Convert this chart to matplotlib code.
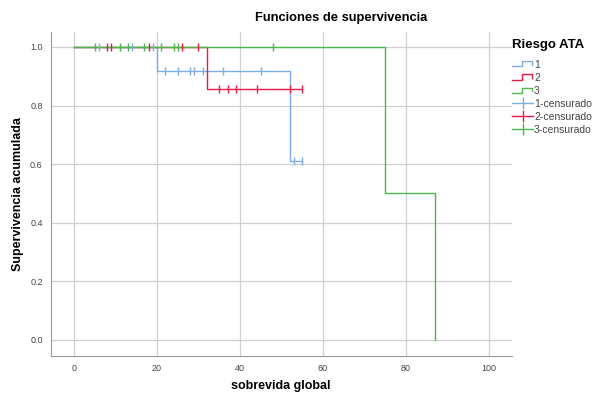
import matplotlib
matplotlib.use("Agg")
import matplotlib.pyplot as plt
from matplotlib.lines import Line2D
from matplotlib.legend_handler import HandlerBase

# Kaplan-Meier steps per risk group (time, survival after the time)
g1_times = [0, 20, 52, 55]
g1_surv = [1.0, 0.917, 0.611, 0.611]
g2_times = [0, 32, 55]
g2_surv = [1.0, 0.857, 0.857]
g3_times = [0, 75, 87, 87]
g3_surv = [1.0, 0.5, 0.0, 0.0]

# censored observations
g1_cens_t = [6, 14, 19, 22, 25, 28, 29, 31, 36, 45, 53, 55]
g1_cens_s = [1.0, 1.0, 1.0, 0.917, 0.917, 0.917, 0.917, 0.917, 0.917, 0.917, 0.611, 0.611]
g2_cens_t = [8, 9, 18, 26, 30, 35, 37, 39, 44, 52, 55]
g2_cens_s = [1.0, 1.0, 1.0, 1.0, 1.0, 0.857, 0.857, 0.857, 0.857, 0.857, 0.857]
g3_cens_t = [5, 11, 13, 17, 21, 24, 25, 48]
g3_cens_s = [1.0] * 8

group_labels = ["1", "2", "3"]
colors = ["#7aaee4", "#e8194a", "#4cb84c"]

x_ticks = [0, 20, 40, 60, 80, 100]
y_ticks = [0.0, 0.2, 0.4, 0.6, 0.8, 1.0]

plt.rcParams['font.family'] = ['Liberation Sans', 'DejaVu Sans']


class StepHandler(HandlerBase):
    def create_artists(self, legend, orig_handle, xdescent, ydescent,
                       width, height, fontsize, trans):
        w, h = width, height
        xs = [0, 0.45 * w, 0.45 * w, 0.95 * w, 0.95 * w]
        ys = [0.15 * h, 0.15 * h, 0.85 * h, 0.85 * h, 0.4 * h]
        ln = Line2D([x - xdescent for x in xs], [y - ydescent for y in ys],
                    color=orig_handle.get_color(), lw=1)
        ln.set_transform(trans)
        return [ln]


fig = plt.figure(figsize=(5.95, 3.94), dpi=100)
ax = fig.add_axes([51 / 595, 1 - 356 / 394, (512 - 51) / 595, (356 - 32) / 394])

all_t = [g1_times, g2_times, g3_times]
all_s = [g1_surv, g2_surv, g3_surv]
cens_t = [g1_cens_t, g2_cens_t, g3_cens_t]
cens_s = [g1_cens_s, g2_cens_s, g3_cens_s]

handles = []
for t, s, c, lab in zip(all_t, all_s, colors, group_labels):
    h, = ax.step(t, s, where='post', color=c, lw=1, label=lab, zorder=3)
    handles.append(h)
cens_handles = []
for t, s, c, lab in zip(cens_t, cens_s, colors, group_labels):
    ax.plot(t, s, ls='none', marker='|', ms=5.5, mew=1, color=c,
            label=lab + "-censurado", zorder=4)
    cens_handles.append(Line2D([], [], color=c, lw=1, marker='|', ms=9, mew=1))

ax.set_xlim(-5.5, 105.5)
ax.set_ylim(-0.055, 1.051)
ax.set_xticks(x_ticks)
ax.set_yticks(y_ticks)
ax.set_xticklabels([str(v) for v in x_ticks])
ax.set_yticklabels(["%.1f" % v for v in y_ticks])
ax.tick_params(length=0, labelsize=6.5, colors="#444444", pad=6)
ax.grid(True, color="#d0d0d0", lw=0.9)
ax.set_axisbelow(True)
for side in ["top", "right"]:
    ax.spines[side].set_visible(False)
for side in ["left", "bottom"]:
    ax.spines[side].set_color("#9a9a9a")

fig.text(281 / 595, 1 - 386 / 394, "sobrevida global", ha='center', va='center',
         fontsize=9, fontweight='bold')
fig.text(18 / 595, 1 - 194 / 394, "Supervivencia acumulada", ha='center',
         va='center', rotation=90, fontsize=9, fontweight='bold')
fig.text(341 / 595, 1 - 18 / 394, "Funciones de supervivencia", ha='center',
         va='center', fontsize=9.3, fontweight='bold')

leg = fig.legend(handles + cens_handles,
                 group_labels + [l + "-censurado" for l in group_labels],
                 title="Riesgo ATA", loc='upper left',
                 bbox_to_anchor=(508 / 595, 1 - 35 / 394), frameon=False,
                 fontsize=7.5, handlelength=2.0, handletextpad=0.1,
                 labelspacing=0.3, borderaxespad=0,
                 handler_map={h: StepHandler() for h in handles})
leg.get_title().set_fontweight('bold')
leg.get_title().set_fontsize(9.5)
leg._legend_box.align = "left"
leg._legend_box.sep = 6
for txt in leg.get_texts():
    txt.set_color("#444444")

fig.savefig("out.png", dpi=100)
